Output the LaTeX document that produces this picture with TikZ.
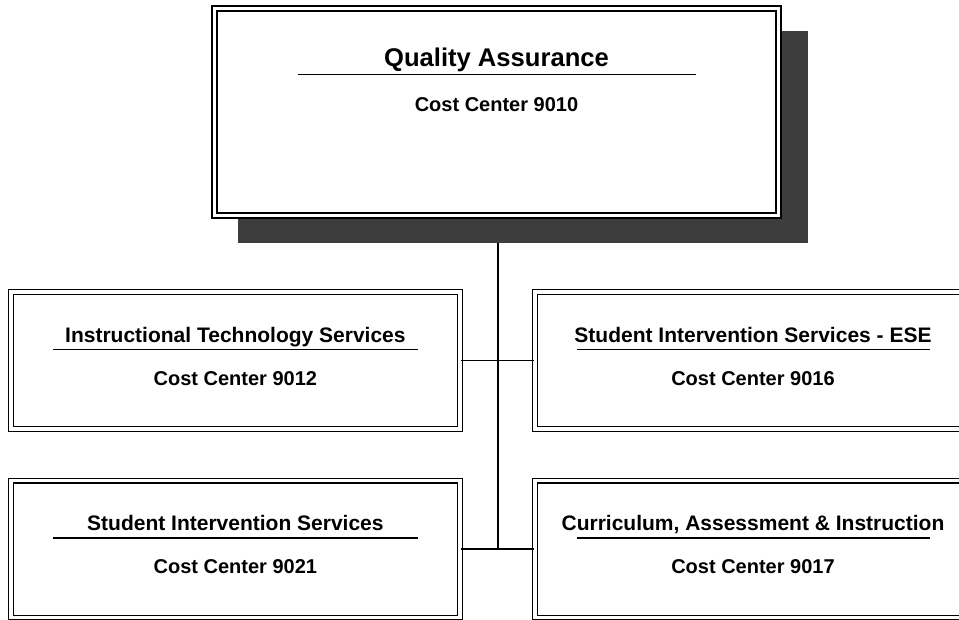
\documentclass[tikz,border=0pt]{standalone}
\usepackage{fontspec}
\setmainfont{Liberation Sans}
\usetikzlibrary{positioning,calc}

\begin{document}
\begin{tikzpicture}[x=1pt,y=-1pt,
    unitbox/.style={draw,double,line width=1.5pt,double distance=3.2pt,fill=white,inner sep=0pt},
    shadowbox/.style={fill=black!76,inner sep=0pt},
    bigtext/.style={anchor=base,font=\fontsize{25.6}{26}\selectfont\bfseries},
    headtext/.style={anchor=base,font=\fontsize{21}{22}\selectfont\bfseries},
    costtext/.style={anchor=base,font=\fontsize{20}{21}\selectfont\bfseries},
    rule/.style={line width=1.4pt},
    link/.style={line width=1.5pt}]
  \useasboundingbox (0,0) rectangle (959,619);
  % top unit with its shadow
  \node[shadowbox,minimum width=570pt,minimum height=212pt] (shd) at (523,137) {};
  \node[unitbox,minimum width=564pt,minimum height=207pt] (qa) at (496.5,112) {};
  \node[bigtext] (qat) at ($(qa.north)+(0,58.5)$) {Quality Assurance};
  \draw[rule] ($(qa.north)+(-199,66.5)$) -- ++(398,0);
  \node[costtext] (qac) at ($(qa.north)+(0,103.5)$) {Cost Center 9010};
  % first row
  \node[unitbox,minimum width=449pt,minimum height=137pt] (its) at (235.4,360.5) {};
  \node[headtext] (itst) at ($(its.north)+(0,51)$) {Instructional Technology Services};
  \draw[rule] ($(its.north)+(-182.5,58)$) -- ++(365,0);
  \node[costtext] (itsc) at ($(its.north)+(0,94)$) {Cost Center 9012};
  \node[unitbox,minimum width=436pt,minimum height=137pt] (ese) at (753,360.5) {};
  \node[headtext] (eset) at ($(ese.north)+(0,51)$) {Student Intervention Services - ESE};
  \draw[rule] ($(ese.north)+(-176.5,58)$) -- ++(353,0);
  \node[costtext] (esec) at ($(ese.north)+(0,94)$) {Cost Center 9016};
  % second row
  \node[unitbox,minimum width=449pt,minimum height=137pt] (sis) at (235.4,549.2) {};
  \node[headtext] (sist) at ($(sis.north)+(0,51)$) {Student Intervention Services};
  \draw[rule] ($(sis.north)+(-182.5,58)$) -- ++(365,0);
  \node[costtext] (sisc) at ($(sis.north)+(0,94)$) {Cost Center 9021};
  \node[unitbox,minimum width=436pt,minimum height=137pt] (cai) at (753,549.2) {};
  \node[headtext] (cait) at ($(cai.north)+(0,51)$) {Curriculum, Assessment \& Instruction};
  \draw[rule] ($(cai.north)+(-176.5,58)$) -- ++(353,0);
  \node[costtext] (caic) at ($(cai.north)+(0,94)$) {Cost Center 9017};
  % connectors
  \coordinate (trunk) at ($(qa.south |- shd.south)+(1.5,0)$);
  \draw[link] (trunk) -- (trunk |- cai.west);
  \draw[link] (its.east) -- (ese.west);
  \draw[link] (sis.east) -- (cai.west);
\end{tikzpicture}
\end{document}
